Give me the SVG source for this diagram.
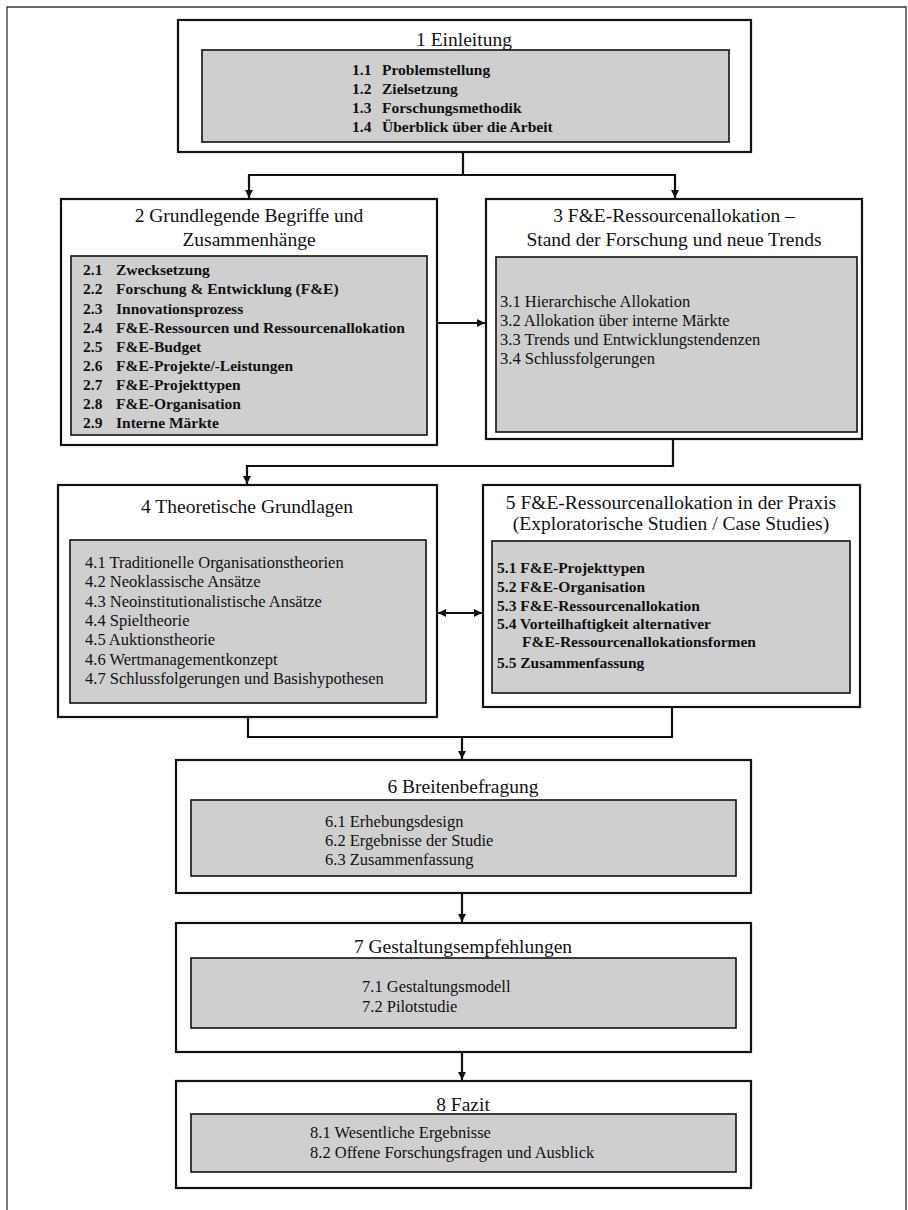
<svg xmlns="http://www.w3.org/2000/svg" width="908" height="1210" viewBox="0 0 908 1210">
<style>
  .outer { fill: #ffffff; stroke: #111; stroke-width: 2.2; }
  .inner { fill: #cfcfcf; stroke: #111; stroke-width: 1.6; }
  .title { font-family: "Liberation Serif", "Times New Roman", serif; font-size: 19.5px; fill: #111; text-anchor: middle; }
  .item { font-family: "Liberation Serif", "Times New Roman", serif; font-size: 16.5px; fill: #111; }
  .itemb { font-family: "Liberation Serif", "Times New Roman", serif; font-size: 15.5px; font-weight: bold; fill: #111; }
  .conn { fill: none; stroke: #111; stroke-width: 2.2; }
  .frame { fill: none; stroke: #333; stroke-width: 1.3; }
</style>
<defs>
  <marker id="arrow" viewBox="0 0 10 10" refX="10" refY="5" markerWidth="9" markerHeight="8" markerUnits="userSpaceOnUse" orient="auto-start-reverse">
    <path d="M0,0 L10,5 L0,10 z" fill="#111"/>
  </marker>
</defs>
<rect x="0" y="0" width="908" height="1210" fill="#ffffff"/>
<path class="frame" d="M7,1212 V7 H906 V1212"/>

<g id="connectors">
  <path class="conn" d="M463,152 V175 M248,175 H676"/>
  <path class="conn" d="M249,175 V198" marker-end="url(#arrow)"/>
  <path class="conn" d="M675,175 V198" marker-end="url(#arrow)"/>
  <path class="conn" d="M437,323 H485" marker-end="url(#arrow)"/>
  <path class="conn" d="M673,439 V466 H247 V484" marker-end="url(#arrow)"/>
  <path class="conn" d="M438,613 H482" marker-start="url(#arrow)" marker-end="url(#arrow)"/>
  <path class="conn" d="M248,717 V737 H673 M672,707 V738"/>
  <path class="conn" d="M462,737 V759" marker-end="url(#arrow)"/>
  <path class="conn" d="M462,893 V922" marker-end="url(#arrow)"/>
  <path class="conn" d="M462,1052 V1080" marker-end="url(#arrow)"/>
</g>

<g id="node1">
  <rect class="outer" x="178" y="20" width="573" height="132"/>
  <text class="title" x="464" y="46">1 Einleitung</text>
  <rect class="inner" x="202" y="50" width="527" height="92"/>
  <text class="itemb" y="75"><tspan x="352">1.1</tspan><tspan x="382">Problemstellung</tspan></text>
  <text class="itemb" y="94"><tspan x="352">1.2</tspan><tspan x="382">Zielsetzung</tspan></text>
  <text class="itemb" y="113"><tspan x="352">1.3</tspan><tspan x="382">Forschungsmethodik</tspan></text>
  <text class="itemb" y="132"><tspan x="352">1.4</tspan><tspan x="382">Überblick über die Arbeit</tspan></text>
</g>

<g id="node2">
  <rect class="outer" x="61" y="199" width="376" height="246"/>
  <text class="title" x="249" y="222">2 Grundlegende Begriffe und</text>
  <text class="title" x="249" y="246">Zusammenhänge</text>
  <rect class="inner" x="71" y="256" width="356" height="179"/>
  <text class="itemb" y="275"><tspan x="83">2.1</tspan><tspan x="116">Zwecksetzung</tspan></text>
  <text class="itemb" y="294"><tspan x="83">2.2</tspan><tspan x="116">Forschung &amp; Entwicklung (F&amp;E)</tspan></text>
  <text class="itemb" y="313.5"><tspan x="83">2.3</tspan><tspan x="116">Innovationsprozess</tspan></text>
  <text class="itemb" y="332.5"><tspan x="83">2.4</tspan><tspan x="116">F&amp;E-Ressourcen und Ressourcenallokation</tspan></text>
  <text class="itemb" y="352"><tspan x="83">2.5</tspan><tspan x="116">F&amp;E-Budget</tspan></text>
  <text class="itemb" y="371"><tspan x="83">2.6</tspan><tspan x="116">F&amp;E-Projekte/-Leistungen</tspan></text>
  <text class="itemb" y="390"><tspan x="83">2.7</tspan><tspan x="116">F&amp;E-Projekttypen</tspan></text>
  <text class="itemb" y="409"><tspan x="83">2.8</tspan><tspan x="116">F&amp;E-Organisation</tspan></text>
  <text class="itemb" y="428"><tspan x="83">2.9</tspan><tspan x="116">Interne Märkte</tspan></text>
</g>

<g id="node3">
  <rect class="outer" x="486" y="199" width="376" height="240"/>
  <text class="title" x="674" y="222">3 F&amp;E-Ressourcenallokation –</text>
  <text class="title" x="674" y="246">Stand der Forschung und neue Trends</text>
  <rect class="inner" x="496" y="257" width="361" height="175"/>
  <text class="item" x="500" y="307">3.1 Hierarchische Allokation</text>
  <text class="item" x="500" y="326">3.2 Allokation über interne Märkte</text>
  <text class="item" x="500" y="345">3.3 Trends und Entwicklungstendenzen</text>
  <text class="item" x="500" y="364">3.4 Schlussfolgerungen</text>
</g>

<g id="node4">
  <rect class="outer" x="58" y="485" width="379" height="232"/>
  <text class="title" x="247" y="513">4 Theoretische Grundlagen</text>
  <rect class="inner" x="70" y="540" width="356" height="163"/>
  <text class="item" x="85" y="568">4.1 Traditionelle Organisationstheorien</text>
  <text class="item" x="85" y="587">4.2 Neoklassische Ansätze</text>
  <text class="item" x="85" y="606.5">4.3 Neoinstitutionalistische Ansätze</text>
  <text class="item" x="85" y="626">4.4 Spieltheorie</text>
  <text class="item" x="85" y="645">4.5 Auktionstheorie</text>
  <text class="item" x="85" y="664.5">4.6 Wertmanagementkonzept</text>
  <text class="item" x="85" y="684">4.7 Schlussfolgerungen und Basishypothesen</text>
</g>

<g id="node5">
  <rect class="outer" x="483" y="485" width="377" height="222"/>
  <text class="title" x="671" y="509">5 F&amp;E-Ressourcenallokation in der Praxis</text>
  <text class="title" x="671" y="530">(Exploratorische Studien / Case Studies)</text>
  <rect class="inner" x="492" y="541" width="358" height="152"/>
  <text class="itemb" x="497" y="573">5.1 F&amp;E-Projekttypen</text>
  <text class="itemb" x="497" y="592">5.2 F&amp;E-Organisation</text>
  <text class="itemb" x="497" y="611">5.3 F&amp;E-Ressourcenallokation</text>
  <text class="itemb" x="497" y="629">5.4 Vorteilhaftigkeit alternativer</text>
  <text class="itemb" x="522" y="647">F&amp;E-Ressourcenallokationsformen</text>
  <text class="itemb" x="497" y="668">5.5 Zusammenfassung</text>
</g>

<g id="node6">
  <rect class="outer" x="176" y="760" width="575" height="133"/>
  <text class="title" x="463" y="793">6 Breitenbefragung</text>
  <rect class="inner" x="191" y="800" width="545" height="76"/>
  <text class="item" x="325" y="827">6.1 Erhebungsdesign</text>
  <text class="item" x="325" y="846">6.2 Ergebnisse der Studie</text>
  <text class="item" x="325" y="865">6.3 Zusammenfassung</text>
</g>

<g id="node7">
  <rect class="outer" x="176" y="923" width="575" height="129"/>
  <text class="title" x="463" y="953">7 Gestaltungsempfehlungen</text>
  <rect class="inner" x="191" y="958" width="545" height="70"/>
  <text class="item" x="362" y="992">7.1 Gestaltungsmodell</text>
  <text class="item" x="362" y="1012">7.2 Pilotstudie</text>
</g>

<g id="node8">
  <rect class="outer" x="176" y="1081" width="575" height="107"/>
  <text class="title" x="463" y="1111">8 Fazit</text>
  <rect class="inner" x="191" y="1114" width="545" height="58"/>
  <text class="item" x="310" y="1138">8.1 Wesentliche Ergebnisse</text>
  <text class="item" x="310" y="1158">8.2 Offene Forschungsfragen und Ausblick</text>
</g>
</svg>
